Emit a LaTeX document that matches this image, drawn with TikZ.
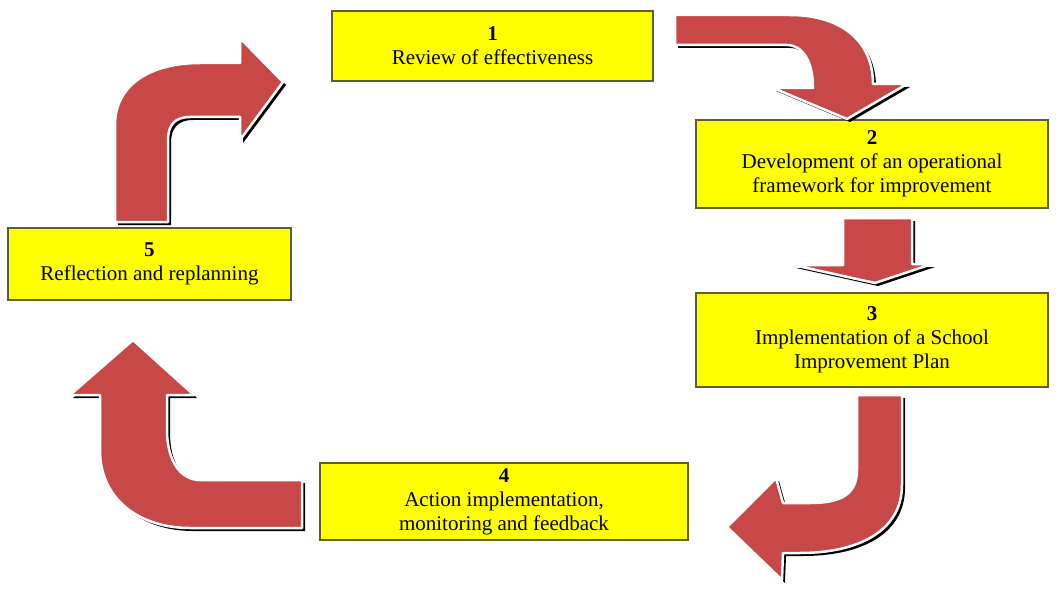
\documentclass[tikz,border=0pt]{standalone}
\usepackage{fontspec}
\setmainfont{Liberation Serif}
\definecolor{arrowred}{RGB}{200,72,72}
\definecolor{boxedge}{RGB}{95,95,45}
\definecolor{stageyellow}{RGB}{255,255,0}

\begin{document}
\begin{tikzpicture}[x=1pt,y=-1pt,
  stage/.style={draw=boxedge,line width=1.2pt,fill=stageyellow,align=center,inner sep=0pt,
    font=\fontsize{21}{24}\selectfont},
  arrowshade/.style={fill=black,shift={(3,3)}},
  arrowbody/.style={fill=arrowred,draw=white,line width=2.5pt,line join=round}]
\useasboundingbox (0,0) rectangle (1058,591);

\node (s1) at (492.5,46) [stage,minimum width=321pt,minimum height=70pt]
  {\textbf{1}\\Review of effectiveness};
\node (s2) at (872,164) [stage,minimum width=352pt,minimum height=88pt]
  {\textbf{2}\\Development of an operational\\framework for improvement};
\node (s3) at (872,340) [stage,minimum width=352pt,minimum height=94pt]
  {\textbf{3}\\Implementation of a School\\Improvement Plan};
\node (s4) at (504,501.5) [stage,minimum width=368pt,minimum height=77pt]
  {\textbf{4}\\Action implementation,\\monitoring and feedback};
\node (s5) at (149.5,264) [stage,minimum width=283pt,minimum height=72pt]
  {\textbf{5}\\Reflection and replanning};

% 1 -> 2
\foreach \s in {arrowshade,arrowbody}
  \path[\s] (675,15) -- (790,15) .. controls (840,15) and (873,40) .. (873,84)
    -- (907,84) -- (847,119) -- (773,88) -- (813,88)
    .. controls (813,62) and (803,45) .. (787,45) -- (675,45) -- cycle;

% 2 -> 3
\foreach \s in {arrowshade,arrowbody}
  \path[\s] (843,218) -- (912,218) -- (912,264) -- (932,264) -- (875,283)
    -- (793,265) -- (843,265) -- cycle;

% 3 -> 4
\foreach \s in {arrowshade,arrowbody}
  \path[\s] (857,395) -- (857,470) .. controls (857,495) and (840,503) .. (810,503)
    -- (783,503) -- (776,478) -- (727,527) -- (782,580) -- (783,553) -- (800,553)
    .. controls (860,553) and (902,530) .. (902,485) -- (902,395) -- cycle;

% 4 -> 5
\foreach \s in {arrowshade,arrowbody}
  \path[\s] (302,480) -- (200,480) .. controls (180,480) and (167,460) .. (167,430)
    -- (167,395) -- (194,395) -- (133,340) -- (70,395) -- (100,395) -- (100,450)
    .. controls (100,500) and (140,528) .. (190,528) -- (302,528) -- cycle;

% 5 -> 1
\foreach \s in {arrowshade,arrowbody}
  \path[\s] (115,222) -- (115,125) .. controls (115,85) and (150,63) .. (200,63)
    -- (240,63) -- (240,38) -- (283,82) -- (240,140) -- (240,117) -- (190,117)
    .. controls (175,117) and (168,125) .. (168,140) -- (168,222) -- cycle;
\end{tikzpicture}
\end{document}
